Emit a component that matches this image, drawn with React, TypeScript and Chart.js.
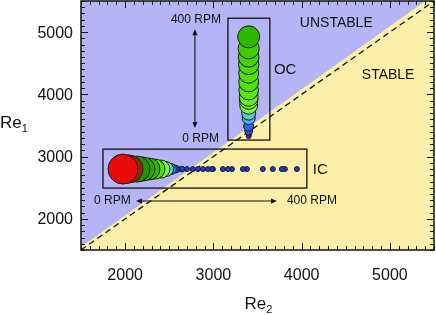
import React, { useEffect, useRef } from "react";
import { Chart, registerables } from "chart.js";
Chart.register(...registerables);

// ---- axis values ----
const axisMin = 1500;
const axisMax = 5500;
const xTickValues = [2000, 3000, 4000, 5000];
const yTickValues = [2000, 3000, 4000, 5000];

// ---- stability boundary (blue above / yellow below) ----
const boundaryRe2 = [1500, 5400];
const boundaryRe1 = [1550, 5500];
// ---- dashed line Re1 = Re2 ----
const dashedRe2 = [1500, 5500];
const dashedRe1 = [1500, 5500];

// ---- OC series (Re2 fixed, Re1 grows with outer-cylinder RPM) ----
const ocRe2 = 3400;
const ocRe1 = [3330, 3378, 3411, 3491, 3619, 3699, 3827, 3908, 3961, 4068, 4201, 4341, 4481, 4603, 4738, 4924];
const ocAmp = [2.5, 3, 4, 5, 6.5, 7, 9, 9.2, 9.5, 9.8, 10, 10, 10.2, 10.3, 10.5, 11];

// ---- IC series (Re1 fixed, listed from smallest to largest amplitude) ----
const icRe1 = 2800;
const icRe2 = [3946, 3810, 3776, 3674, 3561, 3380, 3335, 3210, 3165, 3108, 2995, 2984, 2938, 2882, 2825, 2768, 2700, 2644, 2587, 2565, 2519, 2463, 2406, 2338, 2270, 2202, 2134, 2044, 1976];
const icAmp = [2.5, 2.5, 2.5, 2.5, 2.5, 2.5, 2.5, 2.5, 2.5, 2.5, 2.5, 2.5, 2.5, 2.5, 2.5, 2.5, 2.5, 2.8, 3.2, 4, 5.5, 7.5, 9, 10, 11, 12, 13, 14, 15];

const FONT = "'Liberation Sans', Arial, Helvetica, sans-serif";

const colorStops: [number, number[]][] = [
  [2.5, [35, 55, 215]],
  [5, [50, 100, 235]],
  [6.5, [70, 180, 235]],
  [8, [120, 245, 140]],
  [9, [120, 250, 60]],
  [10, [80, 225, 10]],
  [11, [45, 185, 0]],
  [13, [35, 150, 0]],
  [14, [150, 40, 10]],
  [15, [235, 10, 10]],
];

function ampColor(a: number): string {
  if (a <= colorStops[0][0]) return `rgb(${colorStops[0][1].join(",")})`;
  for (let i = 1; i < colorStops.length; i++) {
    const [a1, c1] = colorStops[i];
    const [a0, c0] = colorStops[i - 1];
    if (a <= a1) {
      const t = (a - a0) / (a1 - a0);
      const c = c0.map((v, k) => Math.round(v + (c1[k] - v) * t));
      return `rgb(${c.join(",")})`;
    }
  }
  return `rgb(${colorStops[colorStops.length - 1][1].join(",")})`;
}

const bgPlugin = {
  id: "bgRegions",
  beforeDatasetsDraw(chart: any) {
    const { ctx, chartArea: a, scales } = chart;
    const x = scales.x, y = scales.y;
    ctx.save();
    ctx.beginPath();
    ctx.rect(a.left, a.top, a.right - a.left, a.bottom - a.top);
    ctx.clip();
    ctx.fillStyle = "#fcefa9";
    ctx.fillRect(a.left, a.top, a.right - a.left, a.bottom - a.top);
    ctx.fillStyle = "#b4b4f7";
    ctx.beginPath();
    ctx.moveTo(x.getPixelForValue(boundaryRe2[0]), y.getPixelForValue(boundaryRe1[0]));
    ctx.lineTo(x.getPixelForValue(boundaryRe2[1]), y.getPixelForValue(boundaryRe1[1]));
    ctx.lineTo(x.getPixelForValue(axisMin), y.getPixelForValue(axisMax));
    ctx.closePath();
    ctx.fill();
    // dashed line
    ctx.strokeStyle = "#111";
    ctx.lineWidth = 1.3;
    ctx.setLineDash([6, 4]);
    ctx.beginPath();
    ctx.moveTo(x.getPixelForValue(dashedRe2[0]), y.getPixelForValue(dashedRe1[0]));
    ctx.lineTo(x.getPixelForValue(dashedRe2[1]), y.getPixelForValue(dashedRe1[1]));
    ctx.stroke();
    ctx.restore();
  },
};

function arrowHead(ctx: CanvasRenderingContext2D, x: number, y: number, dx: number, dy: number) {
  const len = 6, hw = 2.6;
  const bx = x - dx * len, by = y - dy * len;
  ctx.beginPath();
  ctx.moveTo(x, y);
  ctx.lineTo(bx - dy * hw, by + dx * hw);
  ctx.lineTo(bx + dy * hw, by - dx * hw);
  ctx.closePath();
  ctx.fill();
}

const overlayPlugin = {
  id: "overlay",
  afterDraw(chart: any) {
    const { ctx, chartArea: a, scales } = chart;
    const x = scales.x, y = scales.y;
    const px = (v: number) => x.getPixelForValue(v);
    const py = (v: number) => y.getPixelForValue(v);
    ctx.save();
    ctx.strokeStyle = "#111";
    ctx.fillStyle = "#111";

    // boxes
    ctx.lineWidth = 1.3;
    ctx.strokeRect(px(3165), py(5224), px(3640) - px(3165), py(3266) - py(5224));
    ctx.strokeRect(px(1749), py(3121), px(4059) - px(1749), py(2495) - py(3121));

    // vertical arrow
    ctx.lineWidth = 1.1;
    const vx = px(2791), vTop = py(5047), vBot = py(3458);
    ctx.beginPath();
    ctx.moveTo(vx, vTop + 4);
    ctx.lineTo(vx, vBot - 4);
    ctx.stroke();
    arrowHead(ctx, vx, vTop, 0, -1);
    arrowHead(ctx, vx, vBot, 0, 1);
    // horizontal arrow
    const hy = py(2286), hL = px(2123), hR = px(3720);
    ctx.beginPath();
    ctx.moveTo(hL + 4, hy);
    ctx.lineTo(hR - 4, hy);
    ctx.stroke();
    arrowHead(ctx, hL, hy, -1, 0);
    arrowHead(ctx, hR, hy, 1, 0);

    // texts
    ctx.font = `12px ${FONT}`;
    ctx.textBaseline = "alphabetic";
    ctx.textAlign = "right";
    ctx.fillText("400 RPM", px(3086), py(5143));
    ctx.fillText("0 RPM", px(3063), py(3233));
    ctx.textAlign = "left";
    ctx.textBaseline = "middle";
    ctx.fillText("0 RPM", px(1647), hy);
    ctx.fillText("400 RPM", px(3833), hy);

    ctx.font = `14px ${FONT}`;
    ctx.fillText("UNSTABLE", px(3980), py(5143));
    ctx.fillText("STABLE", px(4682), py(4309));
    ctx.font = `15px ${FONT}`;
    ctx.fillText("OC", px(3686), py(4389));
    ctx.fillText("IC", px(4127), py(2784));

    // frame
    ctx.lineWidth = 1.5;
    ctx.strokeRect(a.left, a.top, a.right - a.left, a.bottom - a.top);
    // inward ticks
    ctx.lineWidth = 1;
    ctx.beginPath();
    for (let v = axisMin; v <= axisMax; v += 100) {
      const major = v % 1000 === 0;
      const L = major ? 7 : 4;
      const X = Math.round(px(v)) + 0.5;
      ctx.moveTo(X, a.bottom);
      ctx.lineTo(X, a.bottom - L);
      ctx.moveTo(X, a.top);
      ctx.lineTo(X, a.top + L);
      const Y = Math.round(py(v)) + 0.5;
      ctx.moveTo(a.left, Y);
      ctx.lineTo(a.left + L, Y);
      ctx.moveTo(a.right, Y);
      ctx.lineTo(a.right - L, Y);
    }
    ctx.stroke();

    // tick labels
    ctx.font = `16px ${FONT}`;
    ctx.textBaseline = "middle";
    ctx.textAlign = "center";
    xTickValues.forEach((v) => ctx.fillText(String(v), px(v), a.bottom + 26));
    ctx.textAlign = "right";
    yTickValues.forEach((v) => ctx.fillText(String(v), a.left - 8, py(v) + 1));

    // axis titles
    ctx.textAlign = "left";
    ctx.textBaseline = "alphabetic";
    ctx.font = `17px ${FONT}`;
    const xtW = ctx.measureText("Re").width;
    ctx.font = `11px ${FONT}`;
    const subW = ctx.measureText("2").width;
    const cx = (a.left + a.right) / 2 - (xtW + subW) / 2 + 1;
    ctx.font = `17px ${FONT}`;
    ctx.fillText("Re", cx, 309);
    ctx.font = `11px ${FONT}`;
    ctx.fillText("2", cx + xtW, 313);
    ctx.font = `17px ${FONT}`;
    ctx.fillText("Re", 0, 128);
    ctx.font = `11px ${FONT}`;
    ctx.fillText("1", xtW, 132);
    ctx.restore();
  },
};

export default function App() {
  const ref = useRef<HTMLCanvasElement>(null);
  useEffect(() => {
    if (!ref.current) return;
    const chart = new Chart(ref.current, {
      type: "bubble",
      data: {
        datasets: [
          {
            data: icRe2.map((v, i) => ({ x: v, y: icRe1, r: icAmp[i] })),
            backgroundColor: icAmp.map(ampColor),
            borderColor: "#1a1a1a",
            borderWidth: 1,
          },
          {
            data: ocRe1.map((v, i) => ({ x: ocRe2, y: v, r: ocAmp[i] })),
            backgroundColor: ocAmp.map(ampColor),
            borderColor: "#1a1a1a",
            borderWidth: 1,
          },
        ],
      },
      options: {
        animation: false,
        responsive: false,
        maintainAspectRatio: false,
        layout: { autoPadding: false, padding: { top: 1, right: 2, left: 0, bottom: 0 } },
        plugins: { legend: { display: false }, tooltip: { enabled: false } },
        scales: {
          x: {
            type: "linear",
            min: axisMin,
            max: axisMax,
            grid: { display: false, drawTicks: false },
            border: { display: false },
            ticks: { display: false },
            afterFit: (s: any) => {
              s.height = 65;
            },
          },
          y: {
            type: "linear",
            min: axisMin,
            max: axisMax,
            grid: { display: false, drawTicks: false },
            border: { display: false },
            ticks: { display: false },
            afterFit: (s: any) => {
              s.width = 81;
            },
          },
        },
      },
      plugins: [bgPlugin, overlayPlugin],
    } as any);
    return () => chart.destroy();
  }, []);
  return (
    <div style={{ position: "fixed", left: 0, top: 0, width: 436, height: 315, background: "#fff" }}>
      <canvas ref={ref} width={436} height={315} />
    </div>
  );
}
